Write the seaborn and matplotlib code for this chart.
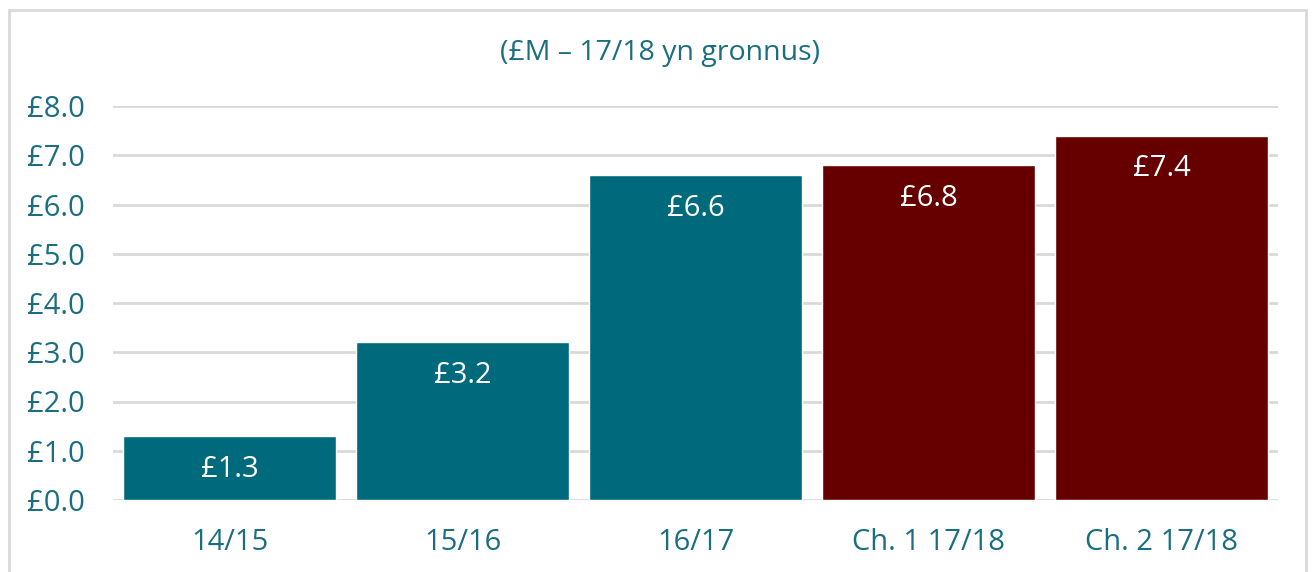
"""Cumulative bar chart (£M, 17/18 prices) recreated with seaborn."""

import matplotlib

matplotlib.use("Agg")
import matplotlib.pyplot as plt
import seaborn as sns
from matplotlib.patches import Rectangle

categories = ["14/15", "15/16", "16/17", "Ch. 1 17/18", "Ch. 2 17/18"]
values = [1.3, 3.2, 6.6, 6.8, 7.4]
bar_colors = ["#006A7D", "#006A7D", "#006A7D", "#660000", "#660000"]
y_ticks = [0, 1, 2, 3, 4, 5, 6, 7, 8]
title = "(£M – 17/18 yn gronnus)"

TEXT = "#1A6E80"
GRID = "#D9D9D9"
FS = 21

sns.set_style("white")
plt.rcParams["font.family"] = ["Open Sans", "DejaVu Sans"]

fig = plt.figure(figsize=(13.12, 5.72), dpi=100)
ax = fig.add_axes([113 / 1312, 1 - 500 / 572, (1278 - 113) / 1312, (500 - 106) / 572])

sns.barplot(
    x=categories,
    y=values,
    hue=categories,
    palette=bar_colors,
    width=0.91,
    saturation=1,
    legend=False,
    ax=ax,
    zorder=3,
)

ax.set_xlim(-0.5, len(categories) - 0.5)
ax.set_ylim(0, 8)
ax.set_yticks(y_ticks)
ax.set_yticklabels([f"£{v:.1f}" for v in y_ticks])
ax.yaxis.grid(True, color=GRID, linewidth=2, zorder=0)
ax.set_axisbelow(True)
for s in ax.spines.values():
    s.set_visible(False)
ax.tick_params(axis="both", length=0, labelsize=FS, colors=TEXT)
ax.tick_params(axis="y", pad=20)
ax.tick_params(axis="x", pad=20)
ax.set_xlabel("")
ax.set_ylabel("")

for patch, v in zip(ax.patches, values):
    ax.annotate(
        f"£{v:.1f}",
        (patch.get_x() + patch.get_width() / 2, patch.get_height()),
        xytext=(0, -24),
        textcoords="offset points",
        ha="center",
        va="center",
        color="white",
        fontsize=FS,
        zorder=4,
    )

fig.text(
    0.5 * (113 + 1278) / 1312 - 0.027,
    1 - 53 / 572,
    title,
    ha="center",
    va="center",
    color=TEXT,
    fontsize=FS - 0.5,
)

fig.patches.append(
    Rectangle(
        (9 / 1312, -0.05),
        (1306 - 9) / 1312,
        1.05 - 10 / 572,
        transform=fig.transFigure,
        fill=False,
        edgecolor=GRID,
        linewidth=2,
    )
)

fig.savefig("out.png", dpi=100)
